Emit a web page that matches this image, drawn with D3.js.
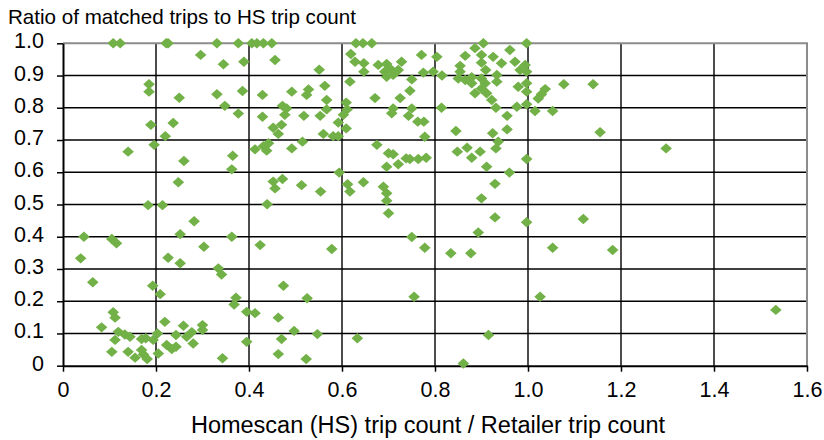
<html>
<head>
<style>
  body { margin: 0; background: #fff; }
  text { font-family: "Liberation Sans", Arial, sans-serif; fill: #000; }
  .grid line { stroke: #000; stroke-width: 1.4; }
</style>
</head>
<body>
<svg id="chart" width="824" height="440"></svg>
<script src="https://d3js.org/d3.v7.min.js"></script>
<script>
// Homescan trip count / retailer trip count
const hsRatio = [
  0.108, 0.123, 0.222, 0.226, 0.331, 0.377, 0.406, 0.417, 0.431, 0.449, 0.630, 0.645, 0.664, 0.886, 0.904, 0.997, 0.961,
  0.296, 0.345, 0.389, 0.185, 0.185, 0.250, 0.331, 0.386, 0.348, 0.377, 0.189, 0.237, 0.220, 0.196, 0.140, 0.260, 0.365, 0.363, 0.248, 0.183, 0.214,
  0.429, 0.492, 0.528, 0.524, 0.563, 0.617, 0.567, 0.472, 0.481, 0.477, 0.429, 0.518, 0.553, 0.567, 0.609, 0.611, 0.603, 0.592, 0.609, 0.452, 0.470, 0.463, 0.560, 0.581, 0.592,
  0.413, 0.431, 0.438, 0.442, 0.492, 0.515, 0.456, 0.551,
  0.619, 0.628, 0.647, 0.647, 0.678, 0.696, 0.703, 0.692, 0.696, 0.710, 0.721, 0.728, 0.771, 0.804, 0.775, 0.796, 0.750, 0.746, 0.671, 0.725,
  0.710, 0.707, 0.750, 0.743, 0.763, 0.776, 0.778, 0.675, 0.700, 0.710, 0.738, 0.746, 0.764, 0.781, 0.696, 0.721, 0.594,
  0.452, 0.472, 0.456, 0.513, 0.554, 0.612, 0.617, 0.646, 0.689, 0.696, 0.696, 0.439,
  0.865, 0.900, 0.925, 0.943, 0.900, 0.972, 0.994, 0.983, 0.997, 0.854, 0.854, 0.909, 0.815, 0.850, 0.865, 0.879, 0.879, 0.900, 0.908, 0.933, 0.933,
  0.900, 0.886, 0.911, 0.922, 0.979, 0.997, 0.997,
  1.037, 1.029, 1.022, 1.077, 1.140, 0.931, 0.976, 0.997, 1.015, 1.053, 0.814, 0.955, 0.845, 0.924, 0.955, 1.155, 0.936, 0.931, 0.848, 0.869, 0.879, 0.897,
  0.997, 0.911, 0.960, 0.929, 0.900, 1.297,
  0.282, 0.045, 0.105, 0.115, 0.252, 0.303, 0.363, 0.038, 0.226, 0.252, 0.334, 0.341, 0.064, 0.193, 0.209, 0.372, 0.368, 0.395, 0.108, 0.112, 0.083,
  0.219, 0.259, 0.300, 0.300, 0.119, 0.133, 0.144, 0.112, 0.169, 0.178, 0.194, 0.203, 0.243, 0.266, 0.277, 0.280, 0.223, 0.234, 0.243, 0.105, 0.140,
  0.155, 0.169, 0.173, 0.181, 0.205, 0.343, 0.395,
  0.700, 0.424, 0.578, 0.750, 0.778, 0.474, 0.525, 0.755, 0.413, 0.463, 0.497, 0.547, 0.470, 0.633, 0.463, 0.523,
  0.929, 0.997, 1.119, 0.893, 0.834, 0.877, 1.053, 1.182, 1.026, 0.915, 0.861, 1.533
];
// Ratio of matched trips to HS trip count
const matchRatio = [
  1.0, 1.0, 1.0, 1.0, 1.0, 1.0, 1.0, 1.0, 1.0, 1.0, 1.0, 1.0, 1.0, 0.985, 1.0, 1.0, 0.979,
  0.964, 0.935, 0.943, 0.873, 0.850, 0.831, 0.842, 0.852, 0.806, 0.782, 0.747, 0.753, 0.712, 0.685, 0.664, 0.635, 0.651, 0.609, 0.569, 0.498, 0.498,
  0.840, 0.850, 0.857, 0.840, 0.868, 0.881, 0.824, 0.806, 0.798, 0.778, 0.772, 0.775, 0.775, 0.795, 0.816, 0.795, 0.778, 0.754, 0.736, 0.738, 0.747, 0.719, 0.719, 0.712, 0.712,
  0.671, 0.681, 0.667, 0.690, 0.674, 0.695, 0.948, 0.918,
  0.967, 0.943, 0.938, 0.912, 0.933, 0.936, 0.922, 0.912, 0.896, 0.902, 0.917, 0.943, 0.964, 0.958, 0.909, 0.912, 0.888, 0.853, 0.830, 0.830,
  0.798, 0.783, 0.798, 0.775, 0.757, 0.757, 0.710, 0.685, 0.659, 0.656, 0.643, 0.641, 0.641, 0.645, 0.617, 0.625, 0.599,
  0.571, 0.579, 0.550, 0.560, 0.540, 0.563, 0.540, 0.569, 0.555, 0.535, 0.512, 0.501,
  0.961, 0.964, 0.958, 0.938, 0.940, 0.943, 0.933, 0.917, 0.912, 0.930, 0.912, 0.917, 0.900, 0.891, 0.886, 0.895, 0.876, 0.891, 0.876, 0.902, 0.881,
  0.860, 0.845, 0.845, 0.824, 0.865, 0.876, 0.850,
  0.858, 0.842, 0.829, 0.873, 0.873, 0.800, 0.803, 0.811, 0.790, 0.790, 0.800, 0.775, 0.728, 0.721, 0.733, 0.724, 0.695, 0.674, 0.664, 0.676, 0.645, 0.664,
  0.641, 0.617, 0.599, 0.564, 0.519, 0.674,
  0.448, 0.400, 0.393, 0.380, 0.408, 0.369, 0.400, 0.333, 0.335, 0.318, 0.302, 0.283, 0.259, 0.248, 0.222, 0.211, 0.190, 0.167, 0.166, 0.149, 0.119,
  0.136, 0.124, 0.126, 0.111, 0.105, 0.097, 0.090, 0.080, 0.083, 0.085, 0.080, 0.100, 0.095, 0.090, 0.104, 0.069, 0.064, 0.052, 0.059, 0.043, 0.043,
  0.025, 0.049, 0.035, 0.021, 0.038, 0.023, 0.074,
  0.473, 0.374, 0.362, 0.399, 0.366, 0.248, 0.209, 0.214, 0.163, 0.149, 0.108, 0.098, 0.083, 0.085, 0.036, 0.021,
  0.460, 0.445, 0.455, 0.413, 0.349, 0.349, 0.366, 0.359, 0.214, 0.095, 0.007, 0.173
];
const xTicks = [0, 0.2, 0.4, 0.6, 0.8, 1.0, 1.2, 1.4, 1.6];
const yTicks = [0, 0.1, 0.2, 0.3, 0.4, 0.5, 0.6, 0.7, 0.8, 0.9, 1.0];

const svg = d3.select("#chart");
const plotLeft = 63, plotRight = 807, plotTop = 43.3, plotBottom = 365.7;

const xScale = d3.scaleLinear().domain([0, 1.6]).range([plotLeft, plotRight]);
const yScale = d3.scaleLinear().domain([0, 1.0]).range([plotBottom, plotTop]);

// gridlines
const grid = svg.append("g").attr("class", "grid");
grid.selectAll(".h").data(yTicks.slice(1, -1)).join("line")
  .attr("x1", plotLeft).attr("x2", plotRight)
  .attr("y1", d => yScale(d)).attr("y2", d => yScale(d));
grid.selectAll(".v").data(xTicks.slice(1, -1)).join("line")
  .attr("y1", plotTop).attr("y2", plotBottom)
  .attr("x1", d => xScale(d)).attr("x2", d => xScale(d));

// plot border: top and right grey
svg.append("path")
  .attr("d", `M${plotLeft},${plotTop}H${plotRight}V${plotBottom}`)
  .attr("fill", "none").attr("stroke", "#8c8c8c").attr("stroke-width", 2);

// axes
const fmt = d => d === 0 ? "0" : d3.format(".1f")(d);
const yAxis = svg.append("g").attr("transform", `translate(${plotLeft},0)`)
  .call(d3.axisLeft(yScale).tickValues(yTicks).tickSize(6).tickSizeOuter(0).tickFormat(fmt));
const xAxis = svg.append("g").attr("transform", `translate(0,${plotBottom})`)
  .call(d3.axisBottom(xScale).tickValues(xTicks).tickSize(6).tickSizeOuter(0).tickFormat(fmt));

[yAxis, xAxis].forEach(a => {
  a.select(".domain").attr("stroke", "#000").attr("stroke-width", 2);
  a.selectAll(".tick line").attr("stroke", "#000").attr("stroke-width", 1.5);
  a.selectAll("text").attr("font-size", 21.5)
    .attr("font-family", "'Liberation Sans', Arial, sans-serif").attr("fill", "#000");
});
yAxis.selectAll("text").attr("x", -19).attr("y", -3).attr("dy", "0.35em");
xAxis.selectAll("text").attr("y", 31).attr("dy", 0);

// points
const diamond = "M0,-5.2L5.8,0L0,5.2L-5.8,0Z";
svg.append("g").selectAll("path").data(hsRatio.map((x, i) => [x, matchRatio[i]])).join("path")
  .attr("d", diamond)
  .attr("transform", d => `translate(${xScale(d[0])},${yScale(d[1])})`)
  .attr("fill", "#72b147");

// titles
svg.append("text").attr("x", 8).attr("y", 23.5).attr("font-size", 20.6)
  .text("Ratio of matched trips to HS trip count");
svg.append("text").attr("x", 428).attr("y", 433).attr("font-size", 23.5)
  .attr("text-anchor", "middle")
  .text("Homescan (HS) trip count / Retailer trip count");
</script>
</body>
</html>
